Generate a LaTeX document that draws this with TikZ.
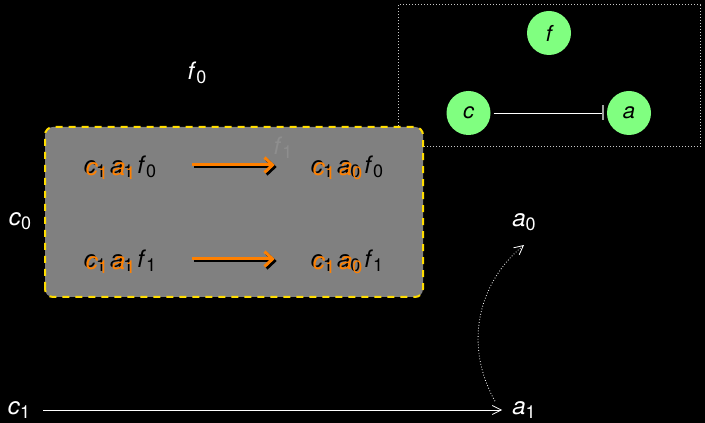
\documentclass[tikz,border=0pt]{standalone}
\usepackage{fontspec}
\setmainfont{TeX Gyre Heros}
\usetikzlibrary{arrows.meta,positioning}
\definecolor{boxgray}{RGB}{128,128,128}
\definecolor{faintgray}{RGB}{142,142,142}
\definecolor{dashyellow}{RGB}{255,221,0}
\definecolor{genegreen}{RGB}{128,255,128}
\definecolor{shadeorange}{RGB}{255,128,0}
\definecolor{framegray}{RGB}{200,200,200}
\definecolor{bargray}{RGB}{160,160,160}
\newcommand{\sv}[2]{\textit{#1}\raisebox{-0.35ex}{\fontsize{18}{18}\selectfont #2}}

\begin{document}
\begin{tikzpicture}[x=1pt,y=1pt,
  lbl/.style={inner sep=0pt, font=\fontsize{24}{24}\selectfont},
  gene/.style={circle, fill=genegreen, minimum size=44pt, inner sep=0pt, font=\fontsize{22}{22}\selectfont\itshape},
  flow/.style={line width=3pt, -{Straight Barb[length=8pt,width=15pt]}},
  trans/.style={white, line width=0.8pt, -{Straight Barb[length=9pt,width=9pt]}}]
% Black page
\path[use as bounding box, fill=black] (0,0) rectangle (705,423);
% Interaction graph (top right)
\draw[framegray, dotted, line width=1pt] (398,276) rectangle (700,418);
\node[gene] (f) at (549,390) {f};
\node[gene] (c) at (468.5,310) {c};
\node[gene] (a) at (629,310) {a};
\draw[white, line width=0.8pt, shorten <=3pt, shorten >=3pt, -{Bar[width=15pt,line width=2pt,color=bargray]}] (c) -- (a);
% Axis labels
\node[lbl, white] (f0) at (197,350) {\sv{f}{0}};
\node[lbl, white] (c0) at (20,202) {\sv{c}{0}};
\node[lbl, white] (c1) at (19,13) {\sv{c}{1}};
\node[lbl, white] (a0) at (524,201) {\sv{a}{0}};
\node[lbl, white] (a1) at (524,13) {\sv{a}{1}};
% Transitions along c and a
\draw[trans, shorten <=13pt, shorten >=10pt] (c1) -- (a1);
\draw[trans, dotted] ([xshift=-29pt]a1.north) to[bend left=40] ([yshift=-14pt]a0.south);
% Shaded region of states
\draw[dashyellow, line width=2pt, dash pattern=on 7pt off 6pt, fill=boxgray, rounded corners=8pt] (45,126) rectangle (423,296);
\node[lbl, faintgray] (f1) at (283,275) {\sv{f}{1}};
\foreach \r/\y in {0/256, 1/162} {
  \node[lbl] (l\r) at (120,\y) {\sv{c}{1}\hspace{4pt}\sv{a}{1}\hspace{4pt}\sv{f}{\r}};
  \node[lbl, shadeorange] at ([shift={(2,-2)}]l\r.center) {\sv{c}{1}\hspace{4pt}\sv{a}{1}\hspace{4pt}\phantom{\sv{f}{\r}}};
  \node[lbl] (r\r) at (347,\y) {\sv{c}{1}\hspace{4pt}\sv{a}{0}\hspace{4pt}\sv{f}{\r}};
  \node[lbl, shadeorange] at ([shift={(2,-2)}]r\r.center) {\sv{c}{1}\hspace{4pt}\sv{a}{0}\hspace{4pt}\phantom{\sv{f}{\r}}};
  \draw[flow, black] ([xshift=38pt]l\r.east) -- ([xshift=-34pt]r\r.west);
  \draw[flow, shadeorange] ([shift={(36pt,2pt)}]l\r.east) -- ([shift={(-36pt,2pt)}]r\r.west);
}
\end{tikzpicture}
\end{document}
